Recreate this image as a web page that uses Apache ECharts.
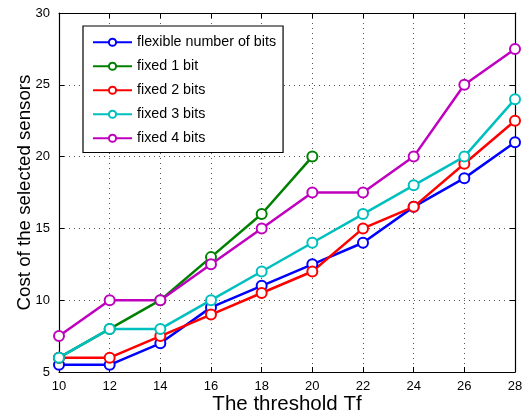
<!DOCTYPE html>
<html>
<head>
<meta charset="utf-8">
<script src="https://cdn.jsdelivr.net/npm/echarts@6/dist/echarts.min.js"></script>
<style>
  html, body { margin: 0; padding: 0; background: #fff; }
</style>
</head>
<body>
<div id="myChart" style="width:526px;height:414px;"></div>
<script>
const thresholds = [10, 12, 14, 16, 18, 20, 22, 24, 26, 28];
const seriesNames = ["flexible number of bits", "fixed 1 bit", "fixed 2 bits", "fixed 3 bits", "fixed 4 bits"];
const flexibleBits = [5.5, 5.5, 7, 9.5, 11, 12.5, 14, 16.5, 18.5, 21];
const fixed1Bit = [6, 8, 10, 13, 16, 20];
const fixed2Bits = [6, 6, 7.5, 9, 10.5, 12, 15, 16.5, 19.5, 22.5];
const fixed3Bits = [6, 8, 8, 10, 12, 14, 16, 18, 20, 24];
const fixed4Bits = [7.5, 10, 10, 12.5, 15, 17.5, 17.5, 20, 25, 27.5];
const colors = ["#0000ff", "#008000", "#ff0000", "#00bfbf", "#bf00bf"];

const font = "Liberation Sans, Arial, sans-serif";
let myChart = echarts.init(document.getElementById("myChart"));

function makeSeries(name, values, color) {
  return {
    name: name,
    type: "line",
    data: values.map((v, i) => [thresholds[i], v]),
    symbol: "emptyCircle",
    symbolSize: 10,
    lineStyle: { color: color, width: 2.5 },
    itemStyle: { color: color, borderColor: color, borderWidth: 2.5 },
    emphasis: { disabled: true },
    animation: false
  };
}

const allValues = [flexibleBits, fixed1Bit, fixed2Bits, fixed3Bits, fixed4Bits];

// 坐标轴共用设置
const tickCommon = { inside: true, length: 5, lineStyle: { color: "#000" } };

myChart.setOption({
  animation: false,
  grid: { left: 59, right: 11, top: 13, bottom: 42, outerBoundsMode: "none", containLabel: false },
  legend: {
    orient: "vertical",
    left: 83,
    top: 26,
    padding: [8, 7, 6, 9],
    itemGap: 7.5,
    itemWidth: 39,
    itemHeight: 9,
    itemTextGap: 4,
    borderColor: "#000",
    borderWidth: 1.2,
    backgroundColor: "#fff",
    textStyle: { color: "#000", fontSize: 14.3, fontFamily: font, lineHeight: 16.5 },
    data: seriesNames
  },
  xAxis: [
    {
      type: "value",
      min: 10,
      max: 28,
      interval: 2,
      name: "The threshold Tf",
      nameLocation: "middle",
      nameGap: 22,
      nameMoveOverlap: false,
      nameTextStyle: { fontSize: 20.5, fontFamily: font, color: "#000" },
      axisLine: { lineStyle: { color: "#000", width: 1.2 } },
      axisTick: tickCommon,
      axisLabel: { color: "#000", fontSize: 13, fontFamily: font, margin: 8 },
      splitLine: { show: true, lineStyle: { color: "#555", type: [1, 4], width: 1 } }
    },
    {
      type: "value",
      position: "top",
      min: 10,
      max: 28,
      interval: 2,
      axisLine: { show: true, lineStyle: { color: "#000", width: 1.2 } },
      axisTick: tickCommon,
      axisLabel: { show: false },
      splitLine: { show: false }
    }
  ],
  yAxis: [
    {
      type: "value",
      min: 5,
      max: 30,
      interval: 5,
      name: "Cost of the selected sensors",
      nameLocation: "middle",
      nameGap: 25,
      nameMoveOverlap: false,
      nameTextStyle: { fontSize: 18.7, fontFamily: font, color: "#000" },
      axisLine: { show: true, lineStyle: { color: "#000", width: 1.2 } },
      axisTick: tickCommon,
      axisLabel: { color: "#000", fontSize: 13, fontFamily: font, margin: 9 },
      splitLine: { show: true, lineStyle: { color: "#555", type: [1, 4], width: 1 } }
    },
    {
      type: "value",
      position: "right",
      min: 5,
      max: 30,
      interval: 5,
      axisLine: { show: true, lineStyle: { color: "#000", width: 1.2 } },
      axisTick: tickCommon,
      axisLabel: { show: false },
      splitLine: { show: false }
    }
  ],
  series: seriesNames.map((n, i) => makeSeries(n, allValues[i], colors[i]))
});
</script>
</body>
</html>
